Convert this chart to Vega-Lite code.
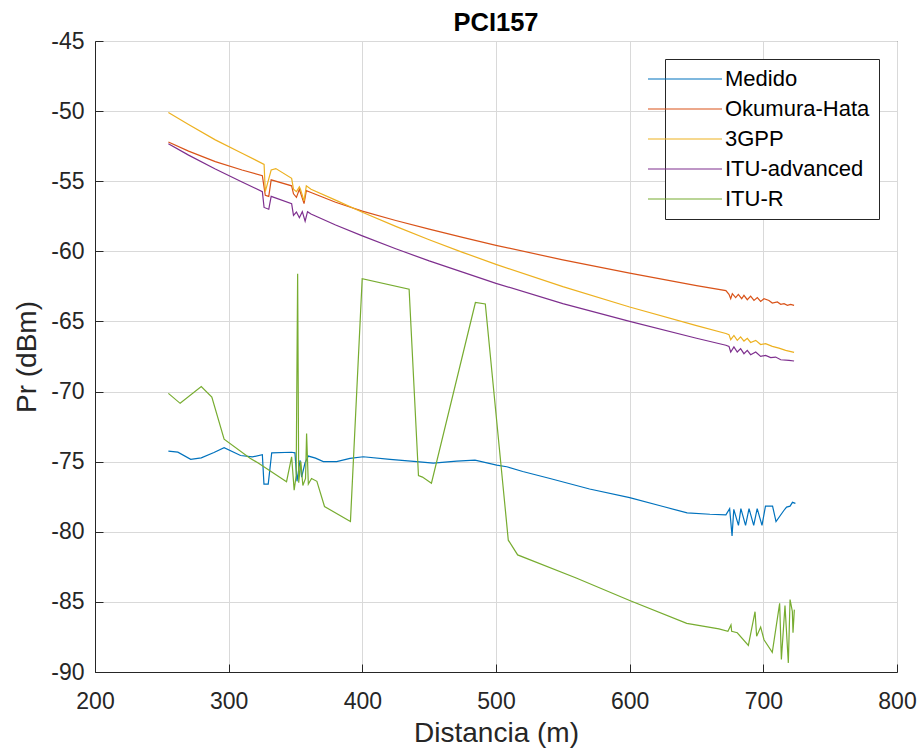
{
"$schema": "https://vega.github.io/schema/vega-lite/v6.json",
"width": 802, "height": 631,
"autosize": {"type": "none"},
"padding": {"left": 95, "top": 41, "right": 23, "bottom": 79},
"background": "white",
"title": {"text": "PCI157", "fontSize": 25.5, "font": "Liberation Sans", "fontWeight": "bold", "color": "#000000", "frame": "group", "baseline": "alphabetic", "offset": -26},
"data": {"values": [
{"s":"Medido","d":254.9,"p":-74.25},{"s":"Medido","d":262,"p":-74.32},{"s":"Medido","d":271.6,"p":-74.83},{"s":"Medido","d":279.5,"p":-74.73},{"s":"Medido","d":289,"p":-74.35},{"s":"Medido","d":296.6,"p":-74.0},{"s":"Medido","d":308.9,"p":-74.56},{"s":"Medido","d":317.7,"p":-74.66},{"s":"Medido","d":325.2,"p":-74.5},{"s":"Medido","d":326.4,"p":-76.6},{"s":"Medido","d":329.6,"p":-76.6},{"s":"Medido","d":332.2,"p":-74.37},{"s":"Medido","d":347,"p":-74.33},{"s":"Medido","d":349.6,"p":-74.37},{"s":"Medido","d":351.1,"p":-76.4},{"s":"Medido","d":353.4,"p":-74.9},{"s":"Medido","d":354.6,"p":-76.1},{"s":"Medido","d":357.1,"p":-75.1},{"s":"Medido","d":359.6,"p":-74.6},{"s":"Medido","d":365,"p":-74.75},{"s":"Medido","d":370.8,"p":-75.0},{"s":"Medido","d":380.8,"p":-75.0},{"s":"Medido","d":390.8,"p":-74.77},{"s":"Medido","d":400.7,"p":-74.65},{"s":"Medido","d":420.7,"p":-74.84},{"s":"Medido","d":440.7,"p":-75.0},{"s":"Medido","d":453.1,"p":-75.1},{"s":"Medido","d":470.6,"p":-74.96},{"s":"Medido","d":484.3,"p":-74.89},{"s":"Medido","d":500.5,"p":-75.25},{"s":"Medido","d":508,"p":-75.36},{"s":"Medido","d":520,"p":-75.7},{"s":"Medido","d":540.4,"p":-76.2},{"s":"Medido","d":570,"p":-76.95},{"s":"Medido","d":600,"p":-77.56},{"s":"Medido","d":625,"p":-78.2},{"s":"Medido","d":643,"p":-78.65},{"s":"Medido","d":660,"p":-78.75},{"s":"Medido","d":672,"p":-78.79},{"s":"Medido","d":674.8,"p":-78.35},{"s":"Medido","d":676.6,"p":-80.3},{"s":"Medido","d":677.9,"p":-78.4},{"s":"Medido","d":681.4,"p":-79.54},{"s":"Medido","d":683.2,"p":-78.35},{"s":"Medido","d":686.7,"p":-79.54},{"s":"Medido","d":689.3,"p":-78.35},{"s":"Medido","d":692.8,"p":-79.54},{"s":"Medido","d":695.4,"p":-78.35},{"s":"Medido","d":699,"p":-79.54},{"s":"Medido","d":701.6,"p":-78.17},{"s":"Medido","d":706.9,"p":-78.17},{"s":"Medido","d":709.5,"p":-79.27},{"s":"Medido","d":715.2,"p":-78.5},{"s":"Medido","d":717.4,"p":-78.24},{"s":"Medido","d":720,"p":-78.17},{"s":"Medido","d":721.8,"p":-77.9},{"s":"Medido","d":724,"p":-77.97},
{"s":"Okumura-Hata","d":254.9,"p":-52.2},{"s":"Okumura-Hata","d":270,"p":-52.85},{"s":"Okumura-Hata","d":290,"p":-53.6},{"s":"Okumura-Hata","d":310,"p":-54.2},{"s":"Okumura-Hata","d":325.2,"p":-54.6},{"s":"Okumura-Hata","d":327.4,"p":-56.0},{"s":"Okumura-Hata","d":330,"p":-56.08},{"s":"Okumura-Hata","d":331.8,"p":-54.9},{"s":"Okumura-Hata","d":347.1,"p":-55.33},{"s":"Okumura-Hata","d":348.5,"p":-55.9},{"s":"Okumura-Hata","d":350.7,"p":-56.15},{"s":"Okumura-Hata","d":352.9,"p":-55.57},{"s":"Okumura-Hata","d":356.4,"p":-56.6},{"s":"Okumura-Hata","d":358.1,"p":-55.67},{"s":"Okumura-Hata","d":361.6,"p":-55.8},{"s":"Okumura-Hata","d":380,"p":-56.5},{"s":"Okumura-Hata","d":400,"p":-57.13},{"s":"Okumura-Hata","d":425,"p":-57.8},{"s":"Okumura-Hata","d":450,"p":-58.42},{"s":"Okumura-Hata","d":475,"p":-59.0},{"s":"Okumura-Hata","d":500,"p":-59.57},{"s":"Okumura-Hata","d":550,"p":-60.61},{"s":"Okumura-Hata","d":600,"p":-61.56},{"s":"Okumura-Hata","d":650,"p":-62.44},{"s":"Okumura-Hata","d":672,"p":-62.8},{"s":"Okumura-Hata","d":674.3,"p":-63.07},{"s":"Okumura-Hata","d":675.6,"p":-63.38},{"s":"Okumura-Hata","d":676.8,"p":-63.02},{"s":"Okumura-Hata","d":679.3,"p":-63.3},{"s":"Okumura-Hata","d":681.3,"p":-63.07},{"s":"Okumura-Hata","d":683.8,"p":-63.38},{"s":"Okumura-Hata","d":685.5,"p":-63.14},{"s":"Okumura-Hata","d":688,"p":-63.45},{"s":"Okumura-Hata","d":690.5,"p":-63.2},{"s":"Okumura-Hata","d":693,"p":-63.5},{"s":"Okumura-Hata","d":695.5,"p":-63.3},{"s":"Okumura-Hata","d":698,"p":-63.57},{"s":"Okumura-Hata","d":700.5,"p":-63.38},{"s":"Okumura-Hata","d":704.2,"p":-63.5},{"s":"Okumura-Hata","d":706.7,"p":-63.69},{"s":"Okumura-Hata","d":710.5,"p":-63.61},{"s":"Okumura-Hata","d":713,"p":-63.78},{"s":"Okumura-Hata","d":715.5,"p":-63.73},{"s":"Okumura-Hata","d":718,"p":-63.85},{"s":"Okumura-Hata","d":720.4,"p":-63.78},{"s":"Okumura-Hata","d":723,"p":-63.85},
{"s":"3GPP","d":254.9,"p":-50.1},{"s":"3GPP","d":270,"p":-50.95},{"s":"3GPP","d":290,"p":-52.05},{"s":"3GPP","d":310,"p":-53.0},{"s":"3GPP","d":326.5,"p":-53.8},{"s":"3GPP","d":327.4,"p":-55.74},{"s":"3GPP","d":331.8,"p":-54.2},{"s":"3GPP","d":335.3,"p":-54.1},{"s":"3GPP","d":347.1,"p":-54.79},{"s":"3GPP","d":348.5,"p":-55.57},{"s":"3GPP","d":350.7,"p":-55.74},{"s":"3GPP","d":352.9,"p":-55.4},{"s":"3GPP","d":353.7,"p":-55.57},{"s":"3GPP","d":356.4,"p":-56.4},{"s":"3GPP","d":358.1,"p":-55.33},{"s":"3GPP","d":361.6,"p":-55.57},{"s":"3GPP","d":380,"p":-56.35},{"s":"3GPP","d":400,"p":-57.21},{"s":"3GPP","d":425,"p":-58.22},{"s":"3GPP","d":450,"p":-59.17},{"s":"3GPP","d":475,"p":-60.07},{"s":"3GPP","d":500,"p":-60.93},{"s":"3GPP","d":550,"p":-62.52},{"s":"3GPP","d":600,"p":-63.97},{"s":"3GPP","d":650,"p":-65.3},{"s":"3GPP","d":672,"p":-65.86},{"s":"3GPP","d":674.3,"p":-65.94},{"s":"3GPP","d":675.6,"p":-66.3},{"s":"3GPP","d":678,"p":-66.0},{"s":"3GPP","d":680.5,"p":-66.35},{"s":"3GPP","d":683,"p":-66.1},{"s":"3GPP","d":685.5,"p":-66.4},{"s":"3GPP","d":688,"p":-66.2},{"s":"3GPP","d":690.5,"p":-66.5},{"s":"3GPP","d":694.3,"p":-66.35},{"s":"3GPP","d":698,"p":-66.65},{"s":"3GPP","d":701.7,"p":-66.58},{"s":"3GPP","d":706.7,"p":-66.78},{"s":"3GPP","d":711.7,"p":-66.9},{"s":"3GPP","d":716.7,"p":-67.06},{"s":"3GPP","d":723,"p":-67.2},
{"s":"ITU-advanced","d":254.9,"p":-52.33},{"s":"ITU-advanced","d":270,"p":-53.14},{"s":"ITU-advanced","d":290,"p":-54.13},{"s":"ITU-advanced","d":310,"p":-55.06},{"s":"ITU-advanced","d":325.2,"p":-55.74},{"s":"ITU-advanced","d":326.5,"p":-56.87},{"s":"ITU-advanced","d":330,"p":-57.0},{"s":"ITU-advanced","d":331.8,"p":-56.08},{"s":"ITU-advanced","d":347.1,"p":-56.6},{"s":"ITU-advanced","d":348.5,"p":-57.44},{"s":"ITU-advanced","d":350.7,"p":-57.2},{"s":"ITU-advanced","d":352.9,"p":-57.6},{"s":"ITU-advanced","d":355.1,"p":-57.17},{"s":"ITU-advanced","d":357.2,"p":-57.85},{"s":"ITU-advanced","d":359,"p":-57.17},{"s":"ITU-advanced","d":361.6,"p":-57.34},{"s":"ITU-advanced","d":380,"p":-58.12},{"s":"ITU-advanced","d":400,"p":-58.9},{"s":"ITU-advanced","d":425,"p":-59.82},{"s":"ITU-advanced","d":450,"p":-60.68},{"s":"ITU-advanced","d":475,"p":-61.48},{"s":"ITU-advanced","d":500,"p":-62.28},{"s":"ITU-advanced","d":550,"p":-63.73},{"s":"ITU-advanced","d":600,"p":-65.0},{"s":"ITU-advanced","d":650,"p":-66.2},{"s":"ITU-advanced","d":672,"p":-66.7},{"s":"ITU-advanced","d":674.3,"p":-66.78},{"s":"ITU-advanced","d":675.6,"p":-67.18},{"s":"ITU-advanced","d":678,"p":-66.82},{"s":"ITU-advanced","d":680.5,"p":-67.18},{"s":"ITU-advanced","d":683,"p":-66.94},{"s":"ITU-advanced","d":685.5,"p":-67.3},{"s":"ITU-advanced","d":688,"p":-67.06},{"s":"ITU-advanced","d":690.5,"p":-67.37},{"s":"ITU-advanced","d":694.3,"p":-67.18},{"s":"ITU-advanced","d":698,"p":-67.49},{"s":"ITU-advanced","d":701.7,"p":-67.42},{"s":"ITU-advanced","d":705.5,"p":-67.58},{"s":"ITU-advanced","d":709.2,"p":-67.54},{"s":"ITU-advanced","d":713,"p":-67.73},{"s":"ITU-advanced","d":719.2,"p":-67.77},{"s":"ITU-advanced","d":723,"p":-67.82},
{"s":"ITU-R","d":254.9,"p":-70.13},{"s":"ITU-R","d":263.7,"p":-70.84},{"s":"ITU-R","d":279.5,"p":-69.65},{"s":"ITU-R","d":287.4,"p":-70.4},{"s":"ITU-R","d":296.6,"p":-73.4},{"s":"ITU-R","d":316,"p":-74.75},{"s":"ITU-R","d":322.1,"p":-75.1},{"s":"ITU-R","d":343.3,"p":-76.43},{"s":"ITU-R","d":347.1,"p":-74.65},{"s":"ITU-R","d":349,"p":-77.03},{"s":"ITU-R","d":350.5,"p":-76.0},{"s":"ITU-R","d":351.6,"p":-61.6},{"s":"ITU-R","d":352.4,"p":-76.5},{"s":"ITU-R","d":354,"p":-75.0},{"s":"ITU-R","d":355.5,"p":-76.7},{"s":"ITU-R","d":357.5,"p":-76.2},{"s":"ITU-R","d":358.3,"p":-73.0},{"s":"ITU-R","d":359.6,"p":-76.6},{"s":"ITU-R","d":362,"p":-76.2},{"s":"ITU-R","d":366,"p":-76.4},{"s":"ITU-R","d":371.7,"p":-78.2},{"s":"ITU-R","d":391.1,"p":-79.27},{"s":"ITU-R","d":399.9,"p":-61.95},{"s":"ITU-R","d":435,"p":-62.7},{"s":"ITU-R","d":442,"p":-76.0},{"s":"ITU-R","d":445,"p":-76.1},{"s":"ITU-R","d":451.7,"p":-76.54},{"s":"ITU-R","d":484.6,"p":-63.65},{"s":"ITU-R","d":492,"p":-63.75},{"s":"ITU-R","d":509.2,"p":-80.6},{"s":"ITU-R","d":516.2,"p":-81.65},{"s":"ITU-R","d":560,"p":-83.3},{"s":"ITU-R","d":600,"p":-84.9},{"s":"ITU-R","d":642.7,"p":-86.53},{"s":"ITU-R","d":666.8,"p":-86.93},{"s":"ITU-R","d":673.5,"p":-87.1},{"s":"ITU-R","d":675.8,"p":-86.64},{"s":"ITU-R","d":676.3,"p":-87.1},{"s":"ITU-R","d":680.5,"p":-87.2},{"s":"ITU-R","d":688.8,"p":-88.1},{"s":"ITU-R","d":693.8,"p":-85.7},{"s":"ITU-R","d":695,"p":-87.45},{"s":"ITU-R","d":698,"p":-86.8},{"s":"ITU-R","d":700.5,"p":-87.7},{"s":"ITU-R","d":706.7,"p":-88.6},{"s":"ITU-R","d":712.2,"p":-85.1},{"s":"ITU-R","d":713.5,"p":-89.1},{"s":"ITU-R","d":716.2,"p":-85.26},{"s":"ITU-R","d":718.7,"p":-89.35},{"s":"ITU-R","d":720,"p":-84.83},{"s":"ITU-R","d":721.7,"p":-85.67},{"s":"ITU-R","d":722.2,"p":-87.2},{"s":"ITU-R","d":723.2,"p":-85.55}
]},
"mark": {"type": "line", "strokeWidth": 1.2},
"encoding": {
  "x": {"field": "d", "type": "quantitative", "scale": {"domain": [200, 800], "nice": false, "zero": false},
        "axis": {"title": "Distancia (m)", "values": [200, 300, 400, 500, 600, 700, 800], "ticks": true, "tickSize": -8, "labelPadding": 26, "titlePadding": 6, "labelFlush": false}},
  "y": {"field": "p", "type": "quantitative", "scale": {"domain": [-90, -45], "nice": false, "zero": false},
        "axis": {"title": "Pr (dBm)", "values": [-90, -85, -80, -75, -70, -65, -60, -55, -50, -45], "ticks": true, "tickSize": -8, "labelPadding": 19, "titlePadding": 9, "labelFlush": false, "labelExpr": "replace(datum.label, '\u2212', '-')"}},
  "color": {"field": "s", "type": "nominal",
    "scale": {"domain": ["Medido", "Okumura-Hata", "3GPP", "ITU-advanced", "ITU-R"], "range": ["#0072BD", "#D95319", "#EDB120", "#7E2F8E", "#77AC30"]},
    "legend": {"title": null, "orient": "none", "legendX": 570, "legendY": 18, "symbolType": "M-3.7,0H3.7", "symbolSize": 400, "symbolStrokeWidth": 1.2, "labelOffset": 29, "labelFontSize": 22, "labelFont": "Liberation Sans", "labelColor": "#000000", "rowPadding": 8, "padding": 9, "strokeColor": "#262626", "fillColor": "#ffffff"}}
},
"config": {
  "view": {"stroke": "#262626", "strokeWidth": 1},
  "axis": {"labelFont": "Liberation Sans", "titleFont": "Liberation Sans", "labelColor": "#262626", "titleColor": "#262626", "labelFontSize": 23, "titleFontSize": 28, "titleFontWeight": "normal", "domainColor": "#262626", "tickColor": "#262626", "gridColor": "#d9d9d9", "grid": true}
}
}
